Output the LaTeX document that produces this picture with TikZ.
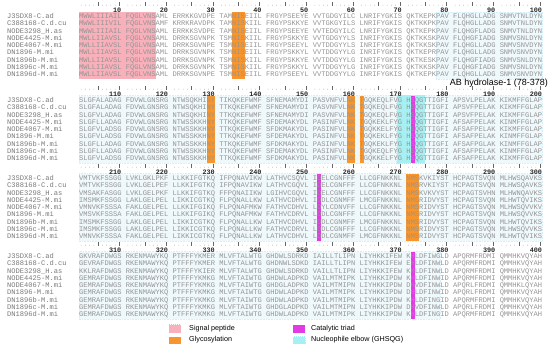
\documentclass[tikz,border=0pt]{standalone}
\usepackage{fontspec}
\setmainfont{Liberation Sans}
\newfontfamily\seqfont{Liberation Mono}

\definecolor{sigpink}{HTML}{F8B0BB}
\definecolor{glyorange}{HTML}{F7962E}
\definecolor{catmag}{HTML}{E23BE6}
\definecolor{elbowcyan}{HTML}{A6F0F4}
\definecolor{abblue}{HTML}{EFF8FB}
\definecolor{seqgray}{HTML}{959595}
\definecolor{namegray}{HTML}{7A7A7A}

\tikzset{
  seqrow/.style={anchor=base west, inner sep=0pt, font=\seqfont\fontsize{7.08}{8}\selectfont, text=seqgray},
  seqname/.style={seqrow, text=namegray},
  rulenum/.style={anchor=base east, inner sep=0pt, font=\seqfont\bfseries\fontsize{6.8}{7}\selectfont, text=black!85},
  ruletick/.style={draw=black!60, line width=0.5pt},
  ruledot/.style={fill=black!55},
  abbox/.style={fill=abblue, draw=cyan!18, densely dotted, line width=0.6pt},
  sigbox/.style={fill=sigpink, draw=sigpink, densely dotted, line width=1pt},
  glybox/.style={fill=glyorange},
  catbox/.style={fill=catmag},
  elbowbox/.style={fill=elbowcyan, draw=elbowcyan, densely dotted, line width=1pt},
  legtext/.style={anchor=west, inner sep=0pt, font=\fontsize{7.2}{8}\selectfont}
}

\begin{document}
\begin{tikzpicture}[x=1pt,y=-1pt]
\useasboundingbox (0,0) rectangle (550,351);

% AB hydrolase-1 domain (78-378)
\draw[abbox] (436,12) rectangle (542.25,79);
\draw[abbox] (79,95.5) rectangle (542.25,162.9);
\draw[abbox] (79,173.5) rectangle (542.25,240.9);
\draw[abbox] (79,251.5) rectangle (440.25,318.9);

% signal peptide and glycosylation sites
\draw[sigbox] (79,12) rectangle (155.5,78.9);
\fill[glybox] (232,11.5) rectangle (244.75,78.9);
\fill[glybox] (206.5,95.5) rectangle (215,162.9);
\fill[glybox] (346.75,95.5) rectangle (355.25,162.9);
\fill[glybox] (359.5,95.5) rectangle (363.75,162.9);
\fill[glybox] (406.25,173.5) rectangle (419,240.9);

% nucleophile elbow and catalytic triad
\draw[elbowbox] (396.5,95) rectangle (424.5,163.4);
\fill[catbox] (410.5,95.5) rectangle (414.75,162.9);
\fill[catbox] (317,173.5) rectangle (321.25,240.9);
\fill[catbox] (410.5,251.5) rectangle (414.75,318.9);

% rulers
\foreach \yb/\first in {16/0,100/100,178/200,256/300} {
  \foreach \p in {1,...,100} {
    \pgfmathsetmacro\cx{81.125+4.25*(\p-1+floor((\p-1)/10))}
    \pgfmathtruncatemacro\rem{mod(\p,5)}
    \ifnum\rem=0
      \draw[ruletick] (\cx,\yb-14) -- (\cx,\yb-10.5);
    \else
      \fill[ruledot] (\cx,\yb-10.8) circle (0.35);
    \fi
  }
  \foreach \k in {1,...,10} {
    \pgfmathtruncatemacro\num{\first+10*\k}
    \pgfmathsetmacro\cx{81.125+4.25*(11*\k-2)}
    \node[rulenum] (n\num) at (\cx+2.1,\yb-4) {\num};
  }
}

% sequence names
\foreach \yb/\b in {16/a,100/b,178/c,256/d} {
  \foreach \nm [count=\i] in {J3SDX8-C.ad, C388168-C.d.cu, NODE3298\_H.as, NODE4425-M.mi,
      NODE4067-M.mi, DN1896-M.mi, DN1896b-M.mi, DN1896c-M.mi, DN1896d-M.mi}
    \node[seqname] (\b name\i) at (7,{\yb+2.4+7.3*(\i-1)}) {\nm};
}

% block 1-100
\foreach \s [count=\i] in {
  MWWLIIIAIL FQGLVNSAML ERRKKGVDPE TAMNISEIIL FRGYPSEEYE VVTGDGYILC LNRIFYGKIS QKTKEPKPAV FLQHGLLADG SNMVTNLDYN,
  MWWLIIIVIL FQGLVNSAMF KRRKRAVDPK TAMNISKIIL FRGYPSKKYE VVTGKGYILS LNRIFYGKIS QKTKKPKPAV FLQHGLLADG SNMVTNLDYN,
  MWWLIIIAIL FQGLVNSAML ERRKKSVDPE TAMNISEIIL FRGYPSEEYE VVTEDGYILC LNRIFYGKIS QKTKEPKPAV FLQHGFLADG SNMVTNLDYN,
  MWLLIIAVSL FQGLVNSAML DRRKSGVNPK TSMNISKIIL FRGYPSKKYE VVTGDGYYLS INRIFYGKIS QKTKKSKPAV FLQHGFIADG SNMVSNLDYN,
  MWLLIIAVSL FQGLVNSAML DRRKSGVNPE TSMNISEIIL FRGYPSEEYL VVTDDGYYLS INRIFYGKIS QKTKKSKPAV FLQHGLLADG SNMVSNVDYN,
  MWLLIIAVSL FQGLVNSAML DRRKSGVNPK TSMNISEIIL FRGYPSKKYL VVTDDGYYLG INRIFYGKIS QKTKEPRPAV FLQHGLLADG SNMVSNVDYN,
  MWLLIIAVSL FQGLVNSAML DRRKSGVNPK TSMNISKIIL FRGYPSKKYE VVTDDGYYLG INRIFYGKIS QKTKESKPAV FLQHGFIADG SNMVSNLDYN,
  MWLLIIAVSL FQGLVNSAML DRRKSGVNPK TSMNISKIIL FRGYPSKKYL VVTDDGYYLG INRIFYGKIS QKTKKSKPAV FLQHGFIADG SNMVSNLDYN,
  MWLLIIAVSL FQGLVNSAML DRRKSGVNPE TSMNISEIIL FRGYPSEEYL VVTDDGYYLG INRIFYGKIS QKTKEPKPAV FLQHGLLADG SNMVSNVDYN}
  \node[seqrow] (a\i) at (79,{18.4+7.3*(\i-1)}) {\s};

\node[anchor=base east, inner sep=0pt, font=\fontsize{9}{10}\selectfont] (ablabel) at (548,85.5) {AB hydrolase-1 (78-378)};

% block 101-200
\foreach \s [count=\i] in {
  SLGFALADAG FDVWLGNSRG NTWSQKHINY TIKQKEFWMF SFNEMAMYDI PASVNFVLNK TGQKEQLFVG HSQGTTIGFI APSVLPELAK KIKMFFGLAP,
  SLGFALADAG FDVWLGNSRG NTWSQKHINY TTKQKEFWMF SFNEMAMYDI PASVNFVLNK TGQKEQLFVG HSQGTTIGFI APSVFPELAK KIKMFFGLAP,
  SLGFVLADAG FDVWLGNSRG NTWSQKHINY TTKQKEFWMF SFNEMAMYDI PASVNFVLNK TGQKEQLFVG HSQGTTIGFI APSVFPELAK KIKMFFGLAP,
  SLGFLLADAG FDVWLGNSRG NTWSSKKHNY TTKQKEFWMF SFDEMAKYDL PASINFVLNK TGQKEKLFYG HSQGTTIGFI AFSAFPELAK KINMFFGLAP,
  SLGFVLADSG FDVWLGNSRG NTWSSKKHNY TTKQKEFWMF SFDKMAKYDL PASINFVLNK TGQKKELFYG HSQGTTIGFI AFSAFPELAK KIKMFFGLAP,
  SLGFVLADSG FDVWLGNSRG NTWSSKKHNY TTKQKEFWMF SFDEMAKYDL PASINFVLNK TGQKEKLFYG HSQGTTIGFI AFSAFPELAK KINMFFGLAP,
  SLGFLLADAG FDVWLGNSRG NTWSSKKHNY TTKQKEFWMF SFDKMAKYDL PASINFVLNK TGQKEKLFYG HSQGTTIGFI AFSAFPGLAK KINMFFGLAP,
  SLGFLLADAG FDVWLGNSRG NTWSSKKHNY TTKQKEFWMF SFDEMAKYDL PASINFVLNK TGQKEQLFYG HSQGTTIGFI AFSAFPELAK KINMFFGLAP,
  SLGFVLADSG FDVWLGNSRG NTWSSKKHNY TTKQKEFWMF SFDKMAKYDL PASINFVLNK TGQKKELFYG HSQGTTIGFI AFSAFPELAK KIKMFFGLAP}
  \node[seqrow] (b\i) at (79,{102.4+7.3*(\i-1)}) {\s};

% block 201-300
\foreach \s [count=\i] in {
  VMTVKFSSGG LVKLGKLPKF LLKKIFGTKQ IFPQNAVIKW LATHVCSQVL IDELCGNFFF LLCGFNKKNL NMSKVKIYST HCPAGTSVQN MLHWSQAVKS,
  VMTVKFSSGG LVKLGELPEF LLKKIFGTKQ IFPQNAVIKW LATHVCGQVL IDELCGNFFF LLCGFNKKNL NMSRVKIYST HCPAGTSVQN MLHWSQAVKS,
  VMSAKFASGG LVKLGELPKF LLKKIFGTKQ FFPQNAIIKW LGIHVCGQVL IDELCGNFFF LLCGFNKKNL NMSKVKVYST HCPAGTSVHN MLHWNQAVKS,
  IMSMKFSSGG LAKLGELPEL LIKKICGTKQ FLPQNALLKW LATHVCDHVL IDDLCGNMFF LMCGFNKKNL NMSRIDVYST HCPAGTSVQN MLHWTQVIKS,
  VMNVKFSSSA FAKLGELPEL LLKKIFGIKQ FLPQNAFMKW FATHVCDHVL LDYLCDNVFF LLCGFNKKNL NMSRIDVYST HCPAGTSVQN MLHWSQVVKV,
  VMSVKFSSSA FAKLGELPEL LLKKIFGIKQ FLPQNAFMKW FATHVCDRVL LDDLCGNFFF LLCGFNKKNL NMSRIDVYST HCPAGTSVQN MLHWSQVVKS,
  IMSMKFSSGG LAKLGELPEL LIKKICGTKQ FLPQNALLKW LATHVCDHVL IDDLCGNMFF LMCGFNKKNL NMSRIDVYST HCPAGTSVQN MLHWTQVIKS,
  IMSMKFSSGG LAKLGELPEL LIKKICGTKQ FLPQNALLKW FATHVCDRVL LDDLCGNFFF LLCGFNKKNL NMSRIDVYST HCPAGTSVQN MLHWSQVVKS,
  VMNVKFSSSA FAKLGELPEL LIKKICGTKQ FLPQNALLKW LATHVCDHVL LDDLCGNMFF LMCGFNKKNL NMSRIDVYST HCPAGTSVQN MLHWTQVIKS}
  \node[seqrow] (c\i) at (79,{180.4+7.3*(\i-1)}) {\s};

% block 301-400
\foreach \s [count=\i] in {
  GKVRAFDWGS RKENMAWYKQ PTFFFYKMER MLVFTALWTG GHDWLSDRKD IAILLTLIPN LIYHKKIFEW KHLDFIWGLD APQRMFRDMI QMMHKVQYAH,
  GEVRAFDWGS RKENMAWYKQ PTFFFYKMER MLVFTALWTG GHDNWLSDKD IAILLTLIPN LIYHKKIFEW EHLDFINWLD APQRMFRDMI QMMHKVQYAH,
  KKLRAFDWGS RKENMAWYKQ PTFFFYKIER MLVFTALWTG GHDWLSDRKD VAILLTLIPN LIYHKKIFEW KHLDFINWLD APQRMFRDMI QMMHKVQYAH,
  GEMRAFDWGS RKENMAWYKQ PTFFFYKMKG MLVFTAIWTG GHDWLADPKD VAILMTMIPK LIYHKKIPDW KHLDFINWID APQRMFRDMI QMMHKVQYAH,
  GEMRAFDWGS RKENMAWYKQ PTFFFYKMKG MLVFTAIWTG GHDGLADPKD VAILMTMIPN LIYHKKIPDW DHVDFINWLD APQRLFRDMI QMMHKLQYAH,
  GEMRAFDWGS RKENMAWYKQ PTFFFYKMKG MLVFTAIWTG GHDWLADPKD VAILMTMIPK LIYHKKIPDW DHLDFINWID APQRLFRDMI QMMHKVQYAH,
  GEMRAFDWGS RKENMAWYKQ PTFFFYKMKG MLVFTAIWTG GHDWLADPKD VAILMTMIPK LIYHKKIPDW KHLDFINGID APQRMFRDMI QMMHKVQYAH,
  GEMRAFDWGS RKENMAWYKQ PTFFFYKMKG MLVFTAIWTG GHDGLADPKD VAILMTMIPN LIYHKKIPDW DHVDFINWLD APQRLFRDMI QMMHKVQYAH,
  GEMRAFDWGS RKENMAWYKQ PTFFFYKMKG MLVFTAIWTG GHDWLADPKD VAILMTMIPK LIYHKKIPDW KHLDFINGID APQRMFRDMI QMMHKVQYAH}
  \node[seqrow] (d\i) at (79,{258.4+7.3*(\i-1)}) {\s};

% legend
\draw[sigbox] (169,324.5) rectangle (180.5,332.5);
\node[legtext] (lsig) at (189,328.5) {Signal peptide};
\fill[glybox] (169,336.5) rectangle (180.5,343.5);
\node[legtext] (lgly) at (189,340) {Glycosylation};
\fill[catbox] (293,324.5) rectangle (305,332.5);
\node[legtext] (lcat) at (311,328.5) {Catalytic triad};
\draw[elbowbox] (293,336.5) rectangle (305,343.5);
\node[legtext] (lelb) at (311,340) {Nucleophile elbow (GHSQG)};
\end{tikzpicture}
\end{document}
